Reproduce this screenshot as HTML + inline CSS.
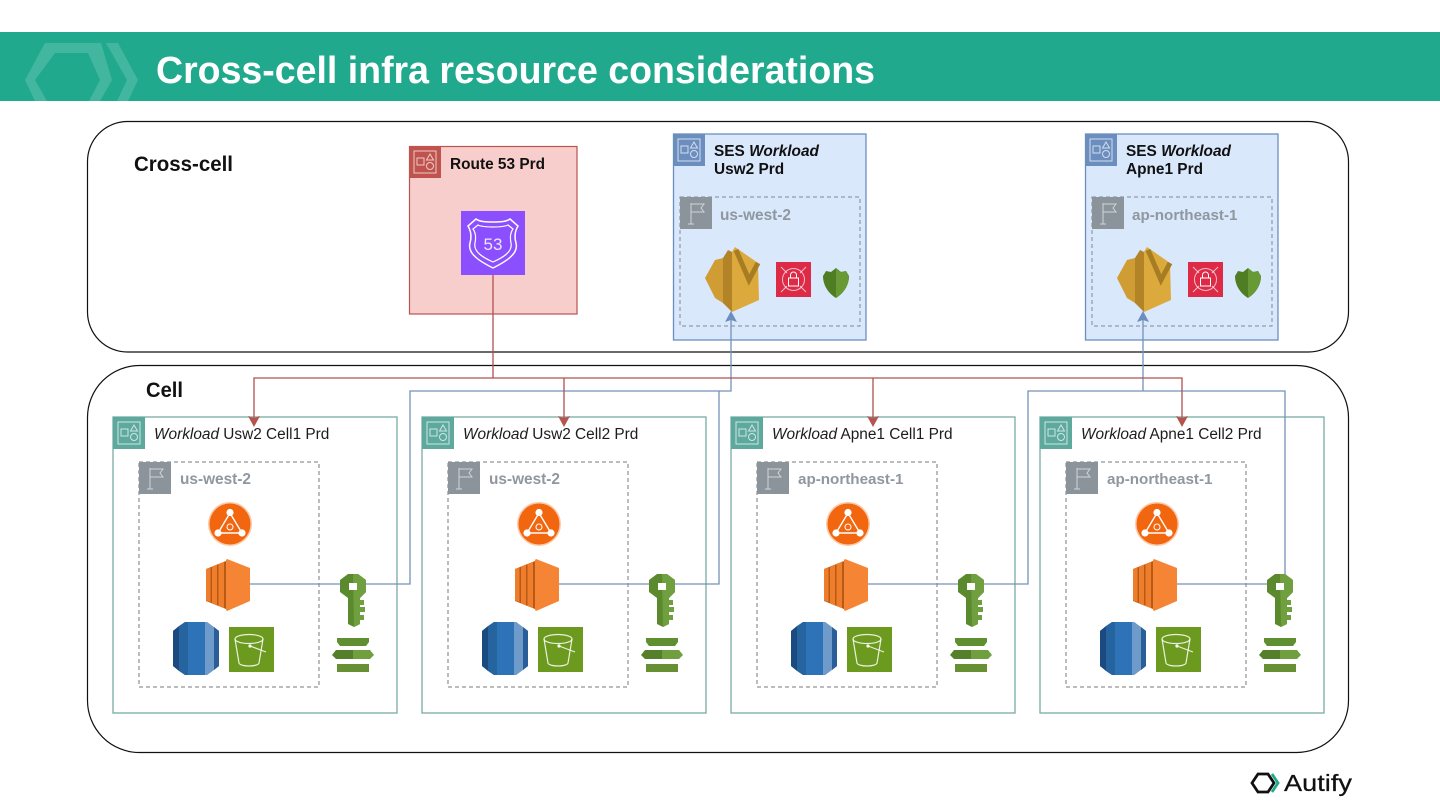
<!DOCTYPE html>
<html><head><meta charset="utf-8"><style>
html,body{margin:0;padding:0;background:#fff}
svg{display:block;filter:blur(.35px)}
text{font-family:"Liberation Sans",sans-serif}
</style></head><body>
<svg width="1440" height="810" viewBox="0 0 1440 810" xmlns="http://www.w3.org/2000/svg">
<defs>
<symbol id="grp" viewBox="0 0 32 32" overflow="visible">
  <g fill="none" stroke="#fff" stroke-opacity=".7" stroke-width="1">
    <rect x="5" y="5" width="22" height="22"/>
    <rect x="8" y="12" width="7" height="7"/>
    <path d="M21 8l3.500 6h-7z"/>
    <circle cx="21" cy="20" r="3.500"/>
  </g>
</symbol>
<symbol id="flag" viewBox="0 0 32 32" overflow="visible">
  <rect width="32" height="32" fill="#8c949b"/>
  <path d="M11 6v21M8 27h6M11 7h13l-3 4 3 4H11" fill="none" stroke="#fff" stroke-opacity=".6" stroke-width="1"/>
</symbol>
<symbol id="nat" viewBox="0 0 44 44" overflow="visible">
  <circle cx="22" cy="22" r="22" fill="#fbc9a8"/>
  <circle cx="22" cy="22" r="20.500" fill="#f1660e"/>
  <path d="M22 11L10 31h24z" fill="none" stroke="#fff" stroke-width="1.400"/>
  <circle cx="22" cy="10.500" r="3.600" fill="#fff"/>
  <circle cx="10" cy="31" r="3.600" fill="#fff"/>
  <circle cx="34" cy="31" r="3.600" fill="#fff"/>
  <circle cx="22" cy="25" r="3" fill="none" stroke="#fff" stroke-width="1"/>
</symbol>
<symbol id="ec2" viewBox="0 0 44 52" overflow="visible">
  <path d="M0 10L20 2V50L0 42z" fill="#b85a16"/>
  <path d="M0 10l4.500-1.500v34.500L0 41.500z" fill="#ee7d2c"/>
  <path d="M6 7.500l5-2v41l-5-2z" fill="#ee7d2c"/>
  <path d="M12.500 5l5.500-2v46l-5.500-2z" fill="#ee7d2c"/>
  <path d="M20 1l1-1 23 9v33l-23 10-1-1z" fill="#f58534"/>
</symbol>
<symbol id="rds" viewBox="0 0 46 53" overflow="visible">
  <path d="M12 0h22l12 9v35l-12 9H12L0 44V9z" fill="#1f5a96"/>
  <path d="M0 9l6-5v45l-6-5z" fill="#1a4a80"/>
  <path d="M15 0h17v53H15z" fill="#2e73b8"/>
  <path d="M32 0h2l8 6v41l-8 6h-2z" fill="#6f9bcb"/>
  <path d="M41 5l5 4v35l-5 4z" fill="#2a5e99"/>
  <path d="M6 4l6-4h3v53h-3l-6-4z" fill="#25649f"/>
</symbol>
<symbol id="s3" viewBox="0 0 45 45" overflow="visible">
  <rect width="45" height="45" fill="#6b9a1e"/>
  <ellipse cx="20" cy="12" rx="14" ry="4.500" fill="none" stroke="#fff" stroke-opacity=".85" stroke-width="1.200"/>
  <path d="M6 12l4 24c1 4 19 4 20 0l4-24" fill="none" stroke="#fff" stroke-opacity=".85" stroke-width="1.200"/>
  <path d="M21 19l16 6" stroke="#fff" stroke-opacity=".85" stroke-width="1.200"/>
  <circle cx="21" cy="19" r="1.600" fill="#fff"/>
</symbol>
<symbol id="key" viewBox="0 0 28 53" overflow="visible">
  <path d="M9 0h10l8 6v12l-6 6v26l-6 3-6-3V24L1 18V6z" fill="#5b8a2e"/>
  <path d="M14 0h5l8 6v12l-6 6v26l-6 3z" fill="#6f9f3e"/>
  <rect x="10" y="9" width="8" height="7" fill="#fff"/>
  <path d="M21 26h4v5h-4zM21 33h5v5h-5zM21 41h4v5h-4z" fill="#6f9f3e"/>
</symbol>
<symbol id="stack" viewBox="0 0 42 34" overflow="visible">
  <path d="M5 0h32v4l-3 4H8L5 4z" fill="#5f8f30"/>
  <path d="M0 17l4-5h17v9H4z" fill="#567f2b"/>
  <path d="M21 12h17l4 5-4 4H21z" fill="#6f9f3e"/>
  <rect x="5" y="26" width="32" height="8" fill="#678f33"/>
</symbol>
<symbol id="ses" viewBox="0 0 55 64" overflow="visible">
  <path d="M0 30L10 12l8-2v45l-8-5z" fill="#cf9d33"/>
  <path d="M18 10l5-8 4 2v60l-9-9z" fill="#b38427"/>
  <path d="M27 4l3-5 23 16 1 37-27 12z" fill="#dcaa3c"/>
  <path d="M31 2l13 30 9-17" fill="none" stroke="#a67d22" stroke-width="5"/>
</symbol>
<symbol id="secr" viewBox="0 0 35 35" overflow="visible">
  <rect width="35" height="35" fill="#dd2a46"/>
  <circle cx="17.500" cy="17.500" r="11" fill="none" stroke="#fff" stroke-opacity=".7"/>
  <path d="M5 5l6 6M30 5l-6 6M5 30l6-6M30 30l-6-6" stroke="#fff" stroke-opacity=".7"/>
  <rect x="12.500" y="16" width="10" height="8" fill="none" stroke="#fff"/>
  <path d="M14.500 16v-3a3 3 0 016 0v3" fill="none" stroke="#fff"/>
</symbol>
<symbol id="shield" viewBox="0 0 26 30" overflow="visible">
  <path d="M13 0L18 4 23 3 26 8C26 17 21 25 13 30 5 25 0 17 0 8L3 3 8 4z" fill="#4f7d23"/>
  <path d="M13 0L18 4 23 3 26 8C26 17 21 25 13 30z" fill="#679a35"/>
</symbol>
<g id="cell">
  <rect x="113" y="417" width="284" height="296" fill="none" stroke="#79aba5" stroke-width="1.300"/>
  <rect x="113" y="417" width="32" height="32" fill="#5ea99e"/>
  <use href="#grp" x="113" y="417" width="32" height="32"/>
  <rect x="139" y="462" width="180" height="225" fill="none" stroke="#7a7a7a" stroke-width="1" stroke-dasharray="4 3"/>
  <use href="#flag" x="139" y="462" width="32" height="32"/>
  <use href="#nat" x="208" y="502" width="44" height="44"/>
  <use href="#ec2" x="206" y="559" width="44" height="52"/>
  <use href="#rds" x="173" y="622" width="46" height="53"/>
  <use href="#s3" x="229" y="627" width="45" height="45"/>
  <use href="#stack" x="332" y="638" width="42" height="34"/>
</g>
</defs>

<rect width="1440" height="810" fill="#fff"/>
<rect x="0" y="32" width="1440" height="69" fill="#20a98d"/>
<g fill="#fff" fill-opacity=".16">
  <path fill-rule="evenodd" d="M25 80L45 43H101L112 80 100 101H35zM35 80L47 101H89L100 80 88 53H55z"/>
  <path d="M106 43h12l20 37-10 21h-11l10-21z"/>
</g>
<text x="156" y="83" font-size="38" font-weight="700" fill="#fff" textLength="719" lengthAdjust="spacingAndGlyphs">Cross-cell infra resource considerations</text>

<rect x="87.500" y="121.500" width="1261" height="230.500" rx="40" fill="#fff" stroke="#111" stroke-width="1.200"/>
<rect x="87.500" y="365.500" width="1261" height="387" rx="52" fill="#fff" stroke="#111" stroke-width="1.200"/>
<text x="134" y="171" font-size="21" font-weight="700" fill="#111" textLength="99" lengthAdjust="spacingAndGlyphs">Cross-cell</text>
<text x="146" y="397" font-size="21" font-weight="700" fill="#111" textLength="37" lengthAdjust="spacingAndGlyphs">Cell</text>

<!-- Route 53 -->
<rect x="409.500" y="146.500" width="167.500" height="167.500" fill="#f8cecc" stroke="#b85450" stroke-width="1.200"/>
<rect x="409" y="146" width="32" height="32" fill="#c0534e"/>
<use href="#grp" x="409" y="146" width="32" height="32"/>
<text x="450" y="169" font-size="15.500" font-weight="700" fill="#111" textLength="95" lengthAdjust="spacingAndGlyphs">Route 53 Prd</text>
<rect x="461" y="211" width="64" height="64" fill="#8c4fff"/>
<path d="M493 222C487 222 480 222 476 219L468 226C471 231 472 236 470 243 467 254 481 262 493 268 505 262 519 254 516 243 514 236 515 231 518 226L510 219C506 222 499 222 493 222Z" fill="none" stroke="#fff" stroke-width="1.500"/>
<path d="M493 227C488 227 482 227 478 225L473 229C476 233 476 238 475 243 473 252 484 258 493 262 502 258 513 252 511 243 510 238 510 233 513 229L508 225C504 227 498 227 493 227Z" fill="none" stroke="#fff" stroke-width="1.200"/>
<text x="493" y="250" font-size="17" fill="#fff" fill-opacity=".85" text-anchor="middle">53</text>

<!-- SES boxes -->
<rect x="673.500" y="134" width="192.500" height="206" fill="#dae8fc" stroke="#6c8ebf" stroke-width="1.300"/>
<rect x="673" y="134" width="32" height="32" fill="#6c8ebf"/>
<use href="#grp" x="673" y="134" width="32" height="32"/>
<text x="714" y="156" font-size="15.400" font-weight="700" fill="#111">SES <tspan font-style="italic">Workload</tspan></text>
<text x="714" y="174" font-size="15.400" font-weight="700" fill="#111">Usw2 Prd</text>
<rect x="680" y="197" width="180" height="129" fill="none" stroke="#7d8a99" stroke-width="1" stroke-dasharray="4 3"/>
<use href="#flag" x="680" y="197" width="32" height="32"/>
<text x="720" y="220" font-size="15.400" font-weight="700" fill="#8f979f">us-west-2</text>
<use href="#ses" x="705" y="248" width="55" height="64"/>
<use href="#secr" x="776" y="262" width="35" height="35"/>
<use href="#shield" x="823" y="268" width="26" height="30"/>

<rect x="1085.500" y="134" width="192.500" height="206" fill="#dae8fc" stroke="#6c8ebf" stroke-width="1.300"/>
<rect x="1085" y="134" width="32" height="32" fill="#6c8ebf"/>
<use href="#grp" x="1085" y="134" width="32" height="32"/>
<text x="1126" y="156" font-size="15.400" font-weight="700" fill="#111">SES <tspan font-style="italic">Workload</tspan></text>
<text x="1126" y="174" font-size="15.400" font-weight="700" fill="#111">Apne1 Prd</text>
<rect x="1092" y="197" width="180" height="129" fill="none" stroke="#7d8a99" stroke-width="1" stroke-dasharray="4 3"/>
<use href="#flag" x="1092" y="197" width="32" height="32"/>
<text x="1132" y="220" font-size="15.200" font-weight="700" fill="#8f979f">ap-northeast-1</text>
<use href="#ses" x="1117" y="248" width="55" height="64"/>
<use href="#secr" x="1188" y="262" width="35" height="35"/>
<use href="#shield" x="1235" y="268" width="26" height="30"/>

<!-- Cells -->
<use href="#cell"/>
<use href="#cell" x="309"/>
<use href="#cell" x="618"/>
<use href="#cell" x="927"/>
<g font-size="15.400" fill="#1c1c1c">
  <text x="154" y="439"><tspan font-style="italic">Workload</tspan> Usw2 Cell1 Prd</text>
  <text x="463" y="439"><tspan font-style="italic">Workload</tspan> Usw2 Cell2 Prd</text>
  <text x="772" y="439"><tspan font-style="italic">Workload</tspan> Apne1 Cell1 Prd</text>
  <text x="1081" y="439"><tspan font-style="italic">Workload</tspan> Apne1 Cell2 Prd</text>
</g>
<g font-size="15.400" font-weight="700" fill="#8f979f">
  <text x="180" y="484">us-west-2</text>
  <text x="489" y="484">us-west-2</text>
  <text x="798" y="484" font-size="15.200">ap-northeast-1</text>
  <text x="1107" y="484" font-size="15.200">ap-northeast-1</text>
</g>

<!-- Blue connectors -->
<g fill="none" stroke="#7492b8" stroke-width="1.300">
  <path d="M250 584H410V391H731V318"/>
  <path d="M719 391V584H559"/>
  <path d="M868 584H1028V391H1285V584H1177"/>
  <path d="M1143 391V318"/>
</g>
<g fill="#6c8ebf">
  <path d="M731 311l-6 11 6-2 6 2z"/>
  <path d="M1143 311l-6 11 6-2 6 2z"/>
</g>
<!-- Red connectors -->
<g fill="none" stroke="#b0504f" stroke-width="1.300">
  <path d="M493 275V378"/>
  <path d="M254 420V378H1182V420"/>
  <path d="M564 378V420M873 378V420"/>
</g>
<g fill="#b85450">
  <path d="M254 427l-6-11 6 2 6-2z"/>
  <path d="M564 427l-6-11 6 2 6-2z"/>
  <path d="M873 427l-6-11 6 2 6-2z"/>
  <path d="M1182 427l-6-11 6 2 6-2z"/>
</g>

<!-- Keys above the connectors -->
<use href="#key" x="339" y="574" width="28" height="53"/>
<use href="#key" x="648" y="574" width="28" height="53"/>
<use href="#key" x="957" y="574" width="28" height="53"/>
<use href="#key" x="1266" y="574" width="28" height="53"/>

<!-- Footer logo -->
<path d="M1258 774h10l6 9-6 9h-10l-6-9z" fill="none" stroke="#111" stroke-width="2.800"/>
<path d="M1272 774l6 9-6 9" fill="none" stroke="#20a98d" stroke-width="2.800"/>
<text x="1284" y="791" font-size="23" font-weight="400" fill="#111" stroke="#111" stroke-width=".25" textLength="68" lengthAdjust="spacingAndGlyphs">Autify</text>
</svg>
</body></html>
